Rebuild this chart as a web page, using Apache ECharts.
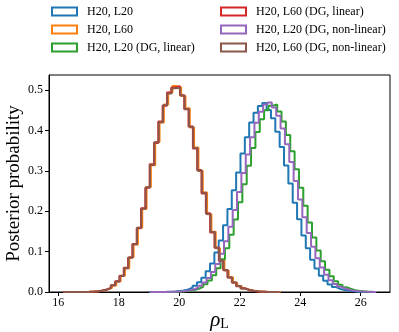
<!DOCTYPE html>
<html>
<head>
<meta charset="utf-8">
<script src="https://cdn.jsdelivr.net/npm/echarts@6/dist/echarts.min.js"></script>
<style>
  html, body { margin: 0; padding: 0; background: #fff; }
  #main { width: 399px; height: 332px; }
</style>
</head>
<body>
<div id="main"></div>
<script>
// histogram bins: first edge, bin width, density per bin
var names = ['H20, L20', 'H20, L60', 'H20, L20 (DG, linear)', 'H20, L60 (DG, linear)', 'H20, L20 (DG, non-linear)', 'H20, L60 (DG, non-linear)'];
var colors = ['#1f77b4', '#ff7f0e', '#2ca02c', '#d62728', '#9467bd', '#8c564b'];
var binStart = [19.0, 16.20, 19.35, 16.16, 19.03, 16.17];
var binWidth = [0.144, 0.143, 0.144, 0.143, 0.144, 0.143];

var h20l20 = [0.00006,0.00011,0.0002,0.0004,0.0007,0.0013,0.0023,0.0040,0.0063,0.0104,0.0157,0.0244,0.0352,0.0515,0.0708,0.0975,0.1272,0.1652,0.2052,0.2515,0.2960,0.3430,0.3828,0.4195,0.4435,0.4600,0.4680,0.4502,0.4300,0.3965,0.3588,0.3128,0.2682,0.2210,0.1798,0.1398,0.1080,0.0795,0.0582,0.0404,0.0280,0.0184,0.0121,0.0075,0.0047,0.0028,0.0016,0.0009,0.0005,0.0003];
var h20l60 = [0.00001,0.00003,0.00006,0.00013,0.00026,0.0005,0.0010,0.0019,0.0034,0.0059,0.0102,0.0163,0.0258,0.0405,0.0588,0.0857,0.1176,0.1592,0.2055,0.2601,0.3138,0.3712,0.4196,0.4638,0.4935,0.5095,0.5068,0.4851,0.4545,0.4072,0.3575,0.2992,0.2465,0.1925,0.1488,0.1082,0.0789,0.0532,0.0366,0.0230,0.0148,0.0086,0.0053,0.0028,0.0016,0.0009,0.0004,0.0002,0.0001,0.00005];
var h20l20Lin = [0.00008,0.00016,0.0003,0.0006,0.0010,0.0018,0.0030,0.0050,0.0080,0.0126,0.0193,0.0287,0.0417,0.0589,0.0810,0.1085,0.1414,0.1796,0.2218,0.2668,0.3125,0.3563,0.3957,0.4276,0.4500,0.4610,0.4640,0.4465,0.4221,0.3885,0.3482,0.3037,0.2580,0.2133,0.1717,0.1346,0.1028,0.0763,0.0552,0.0389,0.0267,0.0178,0.0116,0.0073,0.0045,0.0027,0.0016,0.0009,0.0005];
var h20l60Lin = [0.00001,0.00002,0.00007,0.00012,0.00028,0.0005,0.0011,0.0018,0.0035,0.0058,0.0099,0.0168,0.0265,0.0398,0.0598,0.0846,0.1190,0.1580,0.2070,0.2578,0.3160,0.3685,0.4218,0.4612,0.4940,0.5060,0.5092,0.4870,0.4520,0.4095,0.3550,0.3018,0.2440,0.1948,0.1470,0.1100,0.0772,0.0545,0.0356,0.0238,0.0143,0.0090,0.0050,0.0030,0.0015,0.0009,0.0004,0.0002,0.0001,0.00004];
var h20l20Non = [0.00003,0.00005,0.0001,0.0002,0.0004,0.0007,0.0012,0.0022,0.0037,0.0061,0.0098,0.0153,0.0233,0.0344,0.0495,0.0693,0.0946,0.1254,0.1617,0.2028,0.2477,0.2943,0.3403,0.3827,0.4188,0.4460,0.4640,0.4690,0.4568,0.4359,0.4047,0.3656,0.3214,0.2748,0.2287,0.1852,0.1459,0.1117,0.0834,0.0605,0.0427,0.0293,0.0196,0.0128,0.0081,0.0050,0.0030,0.0017,0.0010,0.0005,0.0003,0.00015];
var h20l60Non = [0.00001,0.00003,0.00006,0.00014,0.00025,0.0005,0.0010,0.0020,0.0033,0.0060,0.0101,0.0164,0.0262,0.0402,0.0590,0.0852,0.1180,0.1590,0.2058,0.2592,0.3142,0.3705,0.4200,0.4620,0.4915,0.5040,0.5055,0.4860,0.4528,0.4088,0.3566,0.3000,0.2458,0.1930,0.1482,0.1090,0.0782,0.0538,0.0360,0.0235,0.0146,0.0088,0.0052,0.0029,0.0016,0.0009,0.0004,0.0002,0.0001,0.00005];
var allVals = [h20l20, h20l60, h20l20Lin, h20l60Lin, h20l20Non, h20l60Non];

var xTicks = [16, 18, 20, 22, 24, 26];
var yTicks = [0, 0.1, 0.2, 0.3, 0.4, 0.5];

var serif = "'Liberation Serif', 'Times New Roman', serif";

// outline of a step histogram (matplotlib histtype='step')
function stepPoints(start, w, vals) {
  var pts = [[start, 0]];
  for (var i = 0; i < vals.length; i++) {
    pts.push([start + i * w, vals[i]]);
  }
  pts.push([start + vals.length * w, 0]);
  return pts;
}

var series = [];
for (var k = 0; k < names.length; k++) {
  series.push({
    name: names[k],
    type: 'line',
    step: 'end',
    symbol: 'none',
    data: stepPoints(binStart[k], binWidth[k], allVals[k]),
    lineStyle: { color: colors[k], width: 2 },
    itemStyle: { color: colors[k] },
    z: 2 + k
  });
}

function legendData(idx) {
  return idx.map(function (k) {
    return { name: names[k], icon: 'rect', itemStyle: { color: '#ffffff', borderColor: colors[k], borderWidth: 2 } };
  });
}

var legendBase = {
  orient: 'vertical',
  top: 0,
  itemWidth: 25,
  itemHeight: 8,
  itemGap: 5,
  selectedMode: false,
  textStyle: { fontFamily: serif, fontSize: 12, color: '#000', lineHeight: 13, padding: [0, 0, 0, 5] }
};

var chart = echarts.init(document.getElementById('main'));
chart.setOption({
  animation: false,
  backgroundColor: '#ffffff',
  legend: [
    Object.assign({}, legendBase, { left: 46, data: legendData([0, 1, 2]) }),
    Object.assign({}, legendBase, { left: 215, data: legendData([3, 4, 5]) })
  ],
  grid: { left: 49, right: 9, top: 75, bottom: 40, outerBoundsMode: 'none', containLabel: false, show: true, borderColor: '#000', borderWidth: 1, backgroundColor: 'transparent' },
  xAxis: {
    type: 'value',
    min: 15.69,
    max: 26.97,
    name: '{r|ρ}{s|L}',
    nameLocation: 'middle',
    nameGap: 17,
    nameMoveOverlap: false,
    nameTextStyle: {
      rich: {
        r: { fontFamily: serif, fontStyle: 'italic', fontSize: 21, color: '#000' },
        s: { fontFamily: serif, fontSize: 14, color: '#000', padding: [8, 0, 0, 0] }
      }
    },
    axisLine: { lineStyle: { color: '#000', width: 1 } },
    axisTick: { show: true, length: 4, lineStyle: { color: '#000' }, customValues: xTicks },
    axisLabel: { customValues: xTicks, fontFamily: serif, fontSize: 12, color: '#000', margin: 5 },
    splitLine: { show: false }
  },
  yAxis: {
    type: 'value',
    min: 0,
    max: 0.537,
    name: 'Posterior probability',
    nameLocation: 'middle',
    nameGap: 25,
    nameMoveOverlap: false,
    nameTextStyle: { fontFamily: serif, fontSize: 19, color: '#000' },
    axisLine: { show: true, lineStyle: { color: '#000', width: 1 } },
    axisTick: { show: true, length: 4, lineStyle: { color: '#000' }, customValues: yTicks },
    axisLabel: {
      customValues: yTicks, fontFamily: serif, fontSize: 12, color: '#000', margin: 6,
      formatter: function (v) { return v.toFixed(1); }
    },
    splitLine: { show: false }
  },
  series: series
});
</script>
</body>
</html>
